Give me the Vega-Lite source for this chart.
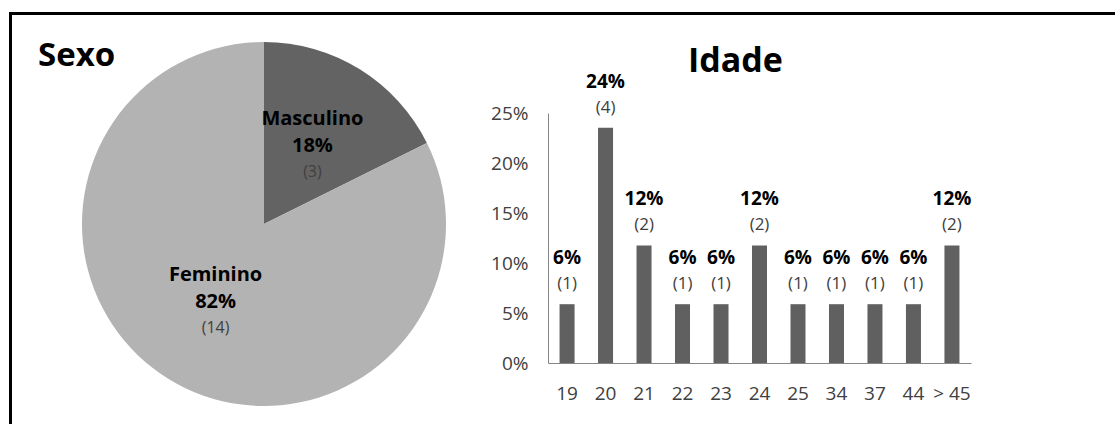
{
  "$schema": "https://vega.github.io/schema/vega-lite/v6.json",
  "padding": {"left": 9, "top": 12, "right": 0, "bottom": 0},
  "background": "white",
  "config": {"font": "Open Sans", "view": {"stroke": null}},
  "spacing": 0,
  "hconcat": [
    {
      "width": 3,
      "height": 412,
      "view": {"fill": "black", "stroke": null},
      "data": {"values": []},
      "mark": "point",
      "encoding": {}
    },
    {
      "spacing": 25,
      "vconcat": [
        {
          "width": 1103,
          "height": 3,
          "view": {"fill": "black", "stroke": null},
          "data": {"values": []},
          "mark": "point",
          "encoding": {}
        },
        {
          "spacing": 32,
          "bounds": "flush",
          "hconcat": [
            {
              "width": 504,
              "height": 222,
              "title": {"text": "Sexo", "anchor": "start", "frame": "group", "dx": 26, "offset": -31, "fontSize": 33, "fontWeight": "bold", "color": "black"},
              "data": {"values": [
                {"sexo": "Masculino", "n": 3, "pct": "18%", "contagem": "(3)"},
                {"sexo": "Feminino", "n": 14, "pct": "82%", "contagem": "(14)"}
              ]},
              "encoding": {
                "theta": {"field": "n", "type": "quantitative", "stack": true},
                "order": {"field": "n", "type": "quantitative", "sort": "ascending"}
              },
              "layer": [
                {
                  "mark": {"type": "arc", "outerRadius": 182},
                  "encoding": {
                    "color": {"field": "sexo", "type": "nominal", "scale": {"domain": ["Masculino", "Feminino"], "range": ["#636363", "#b3b3b3"]}, "legend": null}
                  }
                },
                {
                  "mark": {"type": "text", "dy": -27, "fontSize": 20, "fontWeight": "bold", "color": "black"},
                  "encoding": {"text": {"field": "sexo"}, "detail": {"field": "sexo"},
                    "radius": {"condition": {"test": "datum.sexo === 'Masculino'", "value": 116}, "value": 92}}
                },
                {
                  "mark": {"type": "text", "dy": 0, "fontSize": 20, "fontWeight": "bold", "color": "black"},
                  "encoding": {"text": {"field": "pct"}, "detail": {"field": "sexo"},
                    "radius": {"condition": {"test": "datum.sexo === 'Masculino'", "value": 116}, "value": 92}}
                },
                {
                  "mark": {"type": "text", "dy": 26, "fontSize": 16, "color": "#404040"},
                  "encoding": {"text": {"field": "contagem"}, "detail": {"field": "sexo"},
                    "radius": {"condition": {"test": "datum.sexo === 'Masculino'", "value": 116}, "value": 92}}
                }
              ]
            },
            {
              "width": 423,
              "height": 250,
              "title": {"text": "Idade", "anchor": "middle", "dx": -24, "fontSize": 34, "fontWeight": "bold", "color": "black", "offset": -6},
              "data": {"values": [
                {"idade": "19", "pct": 0.0588, "rotulo": "6%", "contagem": "(1)"},
                {"idade": "20", "pct": 0.2353, "rotulo": "24%", "contagem": "(4)"},
                {"idade": "21", "pct": 0.1176, "rotulo": "12%", "contagem": "(2)"},
                {"idade": "22", "pct": 0.0588, "rotulo": "6%", "contagem": "(1)"},
                {"idade": "23", "pct": 0.0588, "rotulo": "6%", "contagem": "(1)"},
                {"idade": "24", "pct": 0.1176, "rotulo": "12%", "contagem": "(2)"},
                {"idade": "25", "pct": 0.0588, "rotulo": "6%", "contagem": "(1)"},
                {"idade": "34", "pct": 0.0588, "rotulo": "6%", "contagem": "(1)"},
                {"idade": "37", "pct": 0.0588, "rotulo": "6%", "contagem": "(1)"},
                {"idade": "44", "pct": 0.0588, "rotulo": "6%", "contagem": "(1)"},
                {"idade": "> 45", "pct": 0.1176, "rotulo": "12%", "contagem": "(2)"}
              ]},
              "encoding": {
                "x": {"field": "idade", "type": "ordinal", "sort": null, "scale": {"paddingInner": 0.61, "paddingOuter": 0.3},
                  "axis": {"title": null, "labelAngle": 0, "ticks": false, "labelPadding": 21, "labelFontSize": 19, "labelColor": "#404040", "domainColor": "#868686"}},
                "y": {"field": "pct", "type": "quantitative", "scale": {"domain": [0, 0.25], "nice": false},
                  "axis": {"title": null, "values": [0, 0.05, 0.1, 0.15, 0.2, 0.25], "format": ".0%", "grid": false, "ticks": false, "labelPadding": 20, "labelFontSize": 19, "labelColor": "#404040", "domainColor": "#868686"}}
              },
              "layer": [
                {"mark": {"type": "bar", "color": "#606060"}},
                {"mark": {"type": "text", "dy": -46, "fontSize": 19, "fontWeight": "bold", "color": "black"}, "encoding": {"text": {"field": "rotulo"}}},
                {"mark": {"type": "text", "dy": -20, "fontSize": 17, "color": "#404040"}, "encoding": {"text": {"field": "contagem"}}}
              ]
            }
          ]
        }
      ]
    }
  ]
}
